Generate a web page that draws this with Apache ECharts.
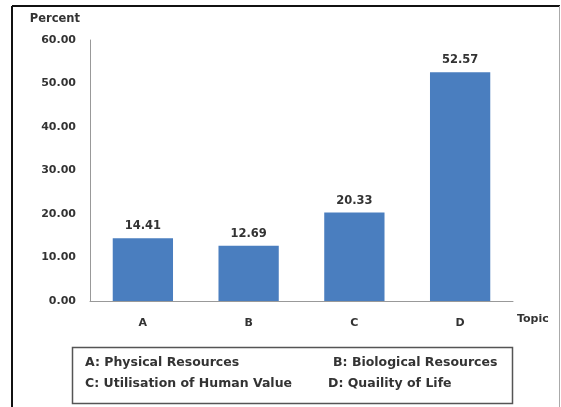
<!DOCTYPE html>
<html>
<head>
<meta charset="utf-8">
<script src="https://cdn.jsdelivr.net/npm/echarts@6/dist/echarts.min.js"></script>
<style>
  html, body { margin: 0; padding: 0; background: #fff; }
  #chart { width: 561px; height: 407px; }
</style>
</head>
<body>
<div id="chart"></div>
<script>
// Topic shares (percent)
var categories = ['A', 'B', 'C', 'D'];
var percentValues = [14.41, 12.69, 20.33, 52.57];
var yTicks = [0, 10, 20, 30, 40, 50, 60];
// Key explaining the topic letters, two entries per row
var keyRow1 = ['A: Physical Resources', 'B: Biological Resources'];
var keyRow2 = ['C: Utilisation of Human Value', 'D: Quaility of Life'];

var FONT = 'DejaVu Sans';
var TEXT = '#333';

var chart = echarts.init(document.getElementById('chart'), null, { renderer: 'canvas' });

function keyText(str, x, y) {
  return {
    type: 'text', left: x, top: y,
    style: { text: str, font: 'bold 12.5px "' + FONT + '"', fill: TEXT }
  };
}

chart.setOption({
  animation: false,
  backgroundColor: '#fff',
  grid: { left: 90, top: 40, right: 48, bottom: 106 },
  xAxis: {
    type: 'category',
    data: categories,
    name: 'Topic',
    nameLocation: 'end',
    nameGap: 4,
    nameTextStyle: { fontFamily: FONT, fontWeight: 'bold', fontSize: 11, color: TEXT,
                     verticalAlign: 'top', padding: [13, 0, 0, 0] },
    axisLine: { lineStyle: { color: '#999', width: 1 } },
    axisTick: { show: false },
    axisLabel: { fontFamily: FONT, fontWeight: 'bold', fontSize: 11, color: TEXT, margin: 17 }
  },
  yAxis: {
    type: 'value',
    min: yTicks[0],
    max: yTicks[yTicks.length - 1],
    interval: yTicks[1] - yTicks[0],
    name: 'Percent',
    nameLocation: 'end',
    nameGap: 15,
    nameTextStyle: { fontFamily: FONT, fontWeight: 'bold', fontSize: 11.5, color: TEXT,
                     align: 'right', verticalAlign: 'bottom', padding: [0, 10, 0, 0] },
    axisLine: { show: true, lineStyle: { color: '#999', width: 1 } },
    axisTick: { show: false },
    splitLine: { show: false },
    axisLabel: {
      fontFamily: FONT, fontWeight: 'bold', fontSize: 11, color: TEXT, margin: 14,
      formatter: function (v) { return v.toFixed(2); }
    }
  },
  series: [{
    type: 'bar',
    data: percentValues,
    barWidth: '57%',
    itemStyle: { color: '#4a7ebf' },
    label: {
      show: true, position: 'top', distance: 6,
      fontFamily: FONT, fontWeight: 'bold', fontSize: 11.5, color: TEXT,
      formatter: function (p) { return p.value.toFixed(2); }
    }
  }],
  graphic: [
    // outer frame
    { type: 'line', shape: { x1: 12, y1: 6, x2: 12, y2: 407 }, style: { stroke: '#111', lineWidth: 2 } },
    { type: 'line', shape: { x1: 12, y1: 6, x2: 560, y2: 6 }, style: { stroke: '#111', lineWidth: 2 } },
    { type: 'line', shape: { x1: 559.5, y1: 6, x2: 559.5, y2: 407 }, style: { stroke: '#aaa', lineWidth: 1 } },
    // key box
    { type: 'rect', shape: { x: 72.5, y: 347.5, width: 440, height: 56 },
      style: { fill: 'none', stroke: '#555', lineWidth: 1.5 } },
    keyText(keyRow1[0], 85, 356),
    keyText(keyRow1[1], 333, 356),
    keyText(keyRow2[0], 85, 377),
    keyText(keyRow2[1], 328, 377)
  ]
});
</script>
</body>
</html>
